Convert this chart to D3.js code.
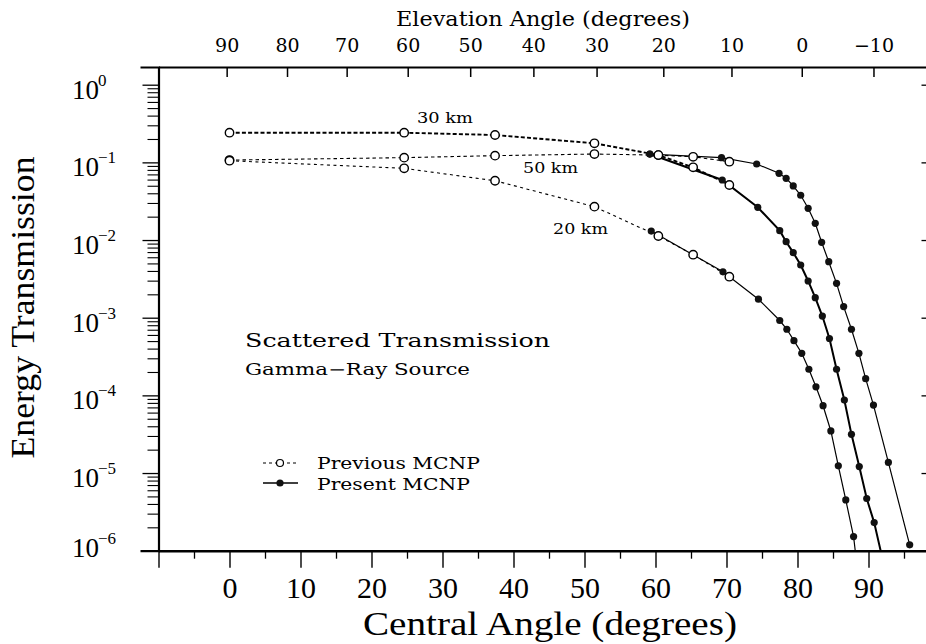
<!DOCTYPE html>
<html><head><meta charset="utf-8">
<script src="https://cdn.jsdelivr.net/npm/d3@7"></script>
<style>html,body{margin:0;padding:0;background:#fff;} svg{display:block;background:#fff;}</style>
</head><body><svg id="c" width="926" height="644"></svg>
<script>
// ---------- data ----------
const xDomain = [-10, 100];
const yDomain = [1e-6, 1.69];
const xMajorTicks = [-10, 0, 10, 20, 30, 40, 50, 60, 70, 80, 90, 100];
const xTickLabels = [0, 10, 20, 30, 40, 50, 60, 70, 80, 90];
const xMinorTicks = [-5, 5, 15, 25, 35, 45, 55, 65, 75, 85, 95];
const yDecades = [1e-6, 1e-5, 1e-4, 1e-3, 1e-2, 1e-1, 1];
const yExponents = ["−6", "−5", "−4", "−3", "−2", "−1", "0"];
const elevTickPos = [-0.4, 8.1, 16.5, 25.1, 33.9, 42.8, 51.7, 61.1, 70.7, 80.6, 90.7];
const elevTickLabels = ["90", "80", "70", "60", "50", "40", "30", "20", "10", "0", "−10"];

// Previous MCNP (open circles, dashed)
const prevAngles = [0, 24.6, 37.4, 51.4, 60.4, 65.3, 70.4];
const prev20 = [0.105, 0.0838, 0.058, 0.0269, 0.01127, 0.00648, 0.00337];
const prev30 = [0.241, 0.241, 0.225, 0.176, 0.124, 0.0863, 0.0511];
const prev50 = [0.107, 0.115, 0.122, 0.128, 0.124, 0.118, 0.102];

// Present MCNP (filled circles, solid)
const pres50Angles = [59.2, 69.3, 74.25, 77.4, 78.4, 79.4, 80.45, 81.5, 82.5, 83.4, 84.4, 85.5, 86.5, 87.6, 88.65, 89.6, 90.7, 92.8, 95.8];
const pres50 = [0.128, 0.115, 0.0953, 0.0723, 0.0623, 0.0497, 0.0377, 0.0256, 0.0164, 0.00935, 0.00526, 0.00277, 0.00139, 7.1e-4, 3.48e-4, 1.64e-4, 7.5e-5, 1.37e-5, 1.19e-6];
const pres30Angles = [59.2, 69.4, 74.4, 77.5, 78.4, 79.4, 80.45, 81.5, 82.5, 83.5, 84.5, 85.5, 86.6, 87.6, 88.7, 89.75, 90.8, 92.1];
const pres30 = [0.128, 0.0593, 0.0264, 0.0132, 0.00952, 0.00688, 0.00477, 0.00297, 0.00181, 0.00105, 5.4e-4, 2.17e-4, 8.7e-5, 3.15e-5, 1.21e-5, 4.7e-6, 2.3e-6, 7e-7];
const pres20Angles = [59.4, 69.5, 74.5, 77.5, 78.5, 79.5, 80.6, 81.6, 82.6, 83.6, 84.7, 85.75, 86.8, 87.9, 88.9];
const pres20 = [0.01306, 0.0039, 0.00173, 9.2e-4, 7.1e-4, 5.06e-4, 3.48e-4, 2.17e-4, 1.29e-4, 7.36e-5, 3.48e-5, 1.24e-5, 4.5e-6, 1.52e-6, 2.5e-7];

const curveLabels = ["30 km", "50 km", "20 km"];
const legendLabels = ["Previous MCNP", "Present MCNP"];

// ---------- drawing ----------
const svg = d3.select("#c");
const serifA = "'DejaVu Serif', serif";
const serifB = "'Liberation Serif', 'Times New Roman', serif";

const x = d3.scaleLinear().domain(xDomain).range([158.5, 939.5]);
const y = d3.scaleLog().domain(yDomain).range([550.7, 67]);

svg.append("defs").append("clipPath").attr("id", "plot")
  .append("rect").attr("x", x(xDomain[0])).attr("y", y(yDomain[1]))
  .attr("width", x(xDomain[1]) - x(xDomain[0])).attr("height", y(yDomain[0]) - y(yDomain[1]));

// bottom axis
const gb = svg.append("g").attr("transform", `translate(0,${y(yDomain[0])})`)
  .call(d3.axisBottom(x).tickValues(xMajorTicks).tickSize(17).tickSizeOuter(0)
    .tickFormat(d => xTickLabels.includes(d) ? String(d) : ""));
gb.select(".domain").attr("stroke-width", 2.6);
gb.selectAll(".tick line").attr("stroke-width", 1.4);
gb.selectAll(".tick text").attr("dy", 0).attr("y", 47.5)
  .style("font-family", serifB).style("font-size", "30px").attr("fill", "#000");
const gbm = svg.append("g").attr("transform", `translate(0,${y(yDomain[0])})`)
  .call(d3.axisBottom(x).tickValues(xMinorTicks).tickSize(8).tickFormat(""));
gbm.select(".domain").remove();
gbm.selectAll(".tick line").attr("stroke-width", 1.3);

// top axis (elevation angle)
const gt = svg.append("g").attr("transform", `translate(0,${y(yDomain[1])})`)
  .call(d3.axisTop(x).tickValues(elevTickPos).tickSize(-10).tickSizeOuter(0).tickPadding(15)
    .tickFormat((d, i) => elevTickLabels[i]));
gt.select(".domain").attr("stroke-width", 2.2);
gt.selectAll(".tick line").attr("stroke-width", 1.5);
gt.selectAll(".tick text").style("font-family", serifA).style("font-size", "19px").attr("fill", "#000");

// left axis
const yMinor = [];
yDecades.forEach(d => { for (let k = 2; k <= 9; k++) { const v = k * d; if (v < yDomain[1]) yMinor.push(v); } });
const gl = svg.append("g").attr("transform", `translate(${x(xDomain[0])},0)`)
  .call(d3.axisLeft(y).tickValues(yDecades).tickSize(16).tickSizeOuter(18).tickFormat(""));
gl.select(".domain").attr("stroke-width", 2.2);
gl.selectAll(".tick line").attr("stroke-width", 1.3);
const glm = svg.append("g").attr("transform", `translate(${x(xDomain[0])},0)`)
  .call(d3.axisLeft(y).tickValues(yMinor).tickSize(11).tickFormat(""));
glm.select(".domain").remove();
glm.selectAll(".tick line").attr("stroke-width", 1.1);

// y tick labels 10^n
const yl = svg.append("g");
yDecades.forEach((d, i) => {
  const by = Math.min(y(d) + 14, 557);
  yl.append("text").attr("x", 72).attr("y", by).text("10")
    .style("font-family", serifB).style("font-size", "27px");
  yl.append("text").attr("x", 98).attr("y", by - 13).text(yExponents[i])
    .style("font-family", serifB).style("font-size", "17px");
});

// right axis (off the edge, ticks inward)
const gr = svg.append("g").attr("transform", `translate(${x(xDomain[1])},0)`)
  .call(d3.axisLeft(y).tickValues(yDecades).tickSize(18).tickSizeOuter(0).tickFormat(""));
gr.selectAll(".tick line").attr("stroke-width", 1.3);

// axis titles
svg.append("text").attr("x", 543).attr("y", 26).attr("text-anchor", "middle")
  .attr("textLength", 294).attr("lengthAdjust", "spacingAndGlyphs")
  .style("font-family", serifA).style("font-size", "20px").text("Elevation Angle (degrees)");
svg.append("text").attr("x", 550).attr("y", 635).attr("text-anchor", "middle")
  .attr("textLength", 374).attr("lengthAdjust", "spacingAndGlyphs")
  .style("font-family", serifB).style("font-size", "33px").text("Central Angle (degrees)");
svg.append("text").attr("transform", "translate(34,307.5) rotate(-90)").attr("text-anchor", "middle")
  .attr("textLength", 302).attr("lengthAdjust", "spacingAndGlyphs")
  .style("font-family", serifB).style("font-size", "34px").text("Energy Transmission");

// curves
const plot = svg.append("g").attr("clip-path", "url(#plot)");
const line = d3.line().x(d => x(d[0])).y(d => y(d[1]));
const zip = (a, b) => a.map((v, i) => [v, b[i]]);

const presSeries = [
  { pts: zip(pres50Angles, pres50), w: 1.2 },
  { pts: zip(pres30Angles, pres30), w: 2.0 },
  { pts: zip(pres20Angles, pres20), w: 1.2 }
];
const prevSeries = [
  { pts: zip(prevAngles, prev30), w: 1.9, dash: "4,2.2" },
  { pts: zip(prevAngles, prev50), w: 1.1, dash: "3.5,3" },
  { pts: zip(prevAngles, prev20), w: 1.1, dash: "3,3.5" }
];
presSeries.forEach(s => plot.append("path").attr("d", line(s.pts)).attr("fill", "none")
  .attr("stroke", "#000").attr("stroke-width", s.w));
prevSeries.forEach(s => plot.append("path").attr("d", line(s.pts)).attr("fill", "none")
  .attr("stroke", "#000").attr("stroke-width", s.w).attr("stroke-dasharray", s.dash));

const inDomain = p => p[1] >= yDomain[0] * 0.98;
presSeries.forEach(s => svg.append("g").selectAll("circle").data(s.pts.filter(inDomain)).join("circle")
  .attr("cx", d => x(d[0])).attr("cy", d => y(d[1])).attr("r", 3.6).attr("fill", "#111"));
prevSeries.forEach(s => svg.append("g").selectAll("circle").data(s.pts).join("circle")
  .attr("cx", d => x(d[0])).attr("cy", d => y(d[1])).attr("r", 4.2)
  .attr("fill", "#fff").attr("stroke", "#000").attr("stroke-width", 1.4));

// curve labels
const labPos = [[417, 123, 56], [523, 173, 55], [553, 234, 55]];
curveLabels.forEach((t, i) => svg.append("text").attr("x", labPos[i][0]).attr("y", labPos[i][1])
  .attr("textLength", labPos[i][2]).attr("lengthAdjust", "spacingAndGlyphs")
  .style("font-family", serifA).style("font-size", "14px").text(t));

// annotation
svg.append("text").attr("x", 245).attr("y", 346.5).attr("textLength", 305).attr("lengthAdjust", "spacingAndGlyphs")
  .style("font-family", serifA).style("font-size", "19px").text("Scattered Transmission");
svg.append("text").attr("x", 245).attr("y", 375).attr("textLength", 225).attr("lengthAdjust", "spacingAndGlyphs")
  .style("font-family", serifA).style("font-size", "16px").text("Gamma−Ray Source");

// legend
const lg = svg.append("g");
lg.append("line").attr("x1", 263).attr("x2", 298).attr("y1", 463).attr("y2", 463)
  .attr("stroke", "#000").attr("stroke-width", 1.1).attr("stroke-dasharray", "3,3");
lg.append("circle").attr("cx", 280).attr("cy", 463).attr("r", 3.5).attr("fill", "#fff").attr("stroke", "#000").attr("stroke-width", 1.2);
lg.append("line").attr("x1", 263).attr("x2", 298).attr("y1", 483).attr("y2", 483)
  .attr("stroke", "#000").attr("stroke-width", 1.6);
lg.append("circle").attr("cx", 280).attr("cy", 483).attr("r", 3.6).attr("fill", "#111");
lg.append("text").attr("x", 317).attr("y", 468.5).attr("textLength", 163).attr("lengthAdjust", "spacingAndGlyphs")
  .style("font-family", serifA).style("font-size", "16px").text(legendLabels[0]);
lg.append("text").attr("x", 317).attr("y", 490).attr("textLength", 153).attr("lengthAdjust", "spacingAndGlyphs")
  .style("font-family", serifA).style("font-size", "16px").text(legendLabels[1]);
</script></body></html>
